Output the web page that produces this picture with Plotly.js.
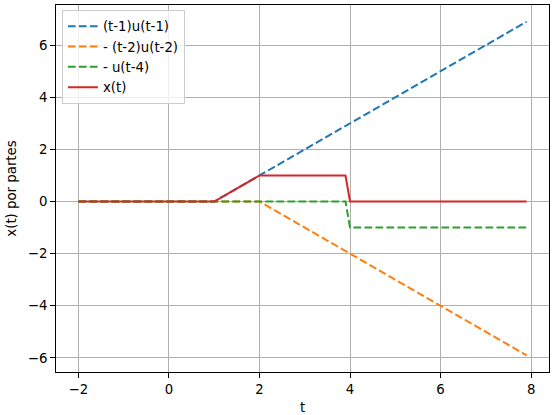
<!DOCTYPE html>
<html>
<head>
<meta charset="utf-8">
<script src="https://cdn.plot.ly/plotly-3.0.1.min.js"></script>
<style>html,body{margin:0;padding:0;background:#fff;}#chart{width:556px;height:415px;}</style>
</head>
<body>
<div id="chart"></div>
<script>
// Breakpoints
const tBlue = [-2, 1, 7.9];
const yBlue = [0, 0, 6.9];
const tOrange = [-2, 2, 7.9];
const yOrange = [0, 0, -5.9];
const tGreen = [-2, 3.9, 4.0, 7.9];
const yGreen = [0, 0, -1, -1];
const tRed = [-2, 1, 2, 3.9, 4.0, 7.9];
const yRed = [0, 0, 1, 1, 0, 0];
const names = ['(t-1)u(t-1)', '- (t-2)u(t-2)', '- u(t-4)', 'x(t)'];
const xTicks = [-2, 0, 2, 4, 6, 8];
const yTicks = [-6, -4, -2, 0, 2, 4, 6];

const dash = '7.7px,3.3px';
const lw = 2.0;
const traces = [
  {x: tBlue, y: yBlue, name: names[0], mode: 'lines', line: {color: '#1f77b4', width: lw, dash: dash}},
  {x: tOrange, y: yOrange, name: names[1], mode: 'lines', line: {color: '#ff7f0e', width: lw, dash: dash}},
  {x: tGreen, y: yGreen, name: names[2], mode: 'lines', line: {color: '#2ca02c', width: lw, dash: dash}},
  {x: tRed, y: yRed, name: names[3], mode: 'lines', line: {color: '#d62728', width: lw}}
];

const axisCommon = {
  showline: true, mirror: true, linecolor: '#000', linewidth: 1,
  ticks: 'outside', ticklen: 4.9, tickwidth: 1, tickcolor: '#000',
  showgrid: true, gridcolor: '#b0b0b0', gridwidth: 1, zeroline: false,
  tickfont: {family: 'DejaVu Sans', size: 13.3, color: '#000'}
};

const layout = {
  width: 556, height: 415,
  margin: {l: 56, r: 7, t: 5, b: 43},
  paper_bgcolor: '#fff', plot_bgcolor: '#fff',
  font: {family: 'DejaVu Sans', size: 13.3, color: '#000'},
  xaxis: Object.assign({}, axisCommon, {
    range: [-2.495, 8.395], tickvals: xTicks,
    title: {text: 't', font: {family: 'DejaVu Sans', size: 13.3}, standoff: 6}
  }),
  yaxis: Object.assign({}, axisCommon, {
    range: [-6.54, 7.54], tickvals: yTicks,
    title: {text: 'x(t) por partes', font: {family: 'DejaVu Sans', size: 13.3}, standoff: 8}
  }),
  showlegend: true,
  legend: {
    x: 0.012, y: 0.986, xanchor: 'left', yanchor: 'top',
    bgcolor: 'rgba(255,255,255,0.8)', bordercolor: '#cccccc', borderwidth: 1,
    font: {family: 'DejaVu Sans', size: 13.3, color: '#000'}
  },
  hovermode: false
};

Plotly.newPlot('chart', traces, layout, {displayModeBar: false, staticPlot: true});
</script>
</body>
</html>
